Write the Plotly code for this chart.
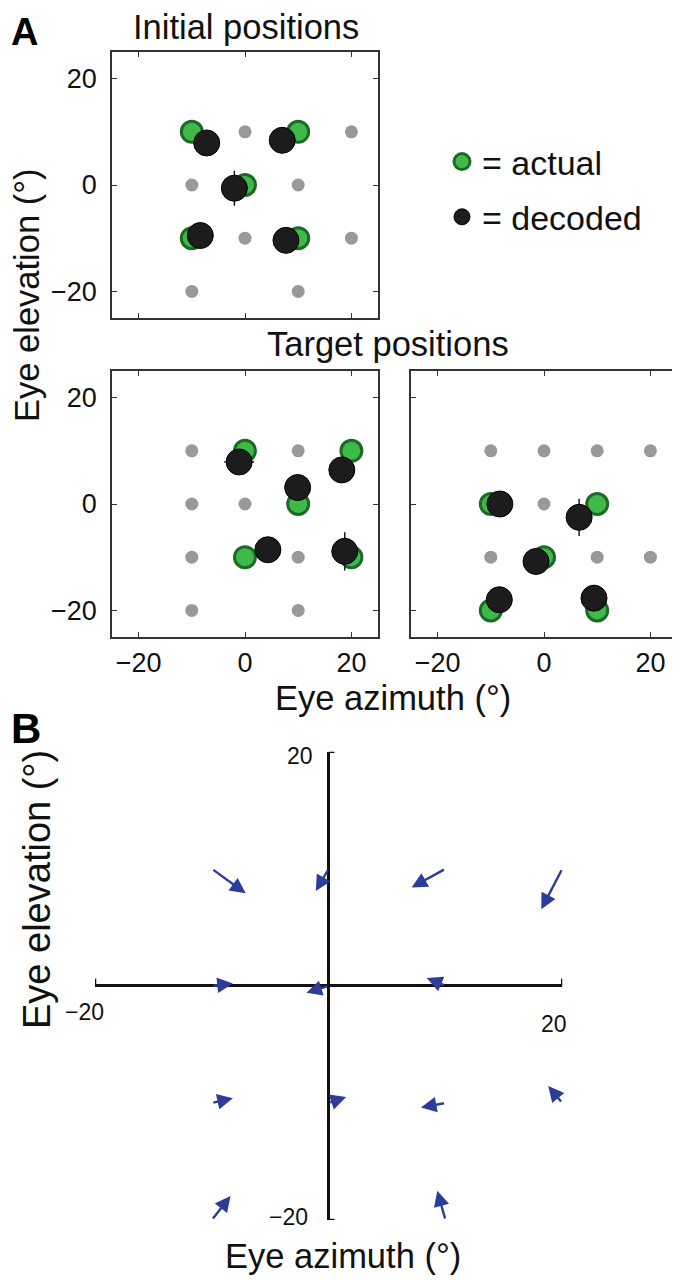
import plotly.graph_objects as go

# ---- data (deg) ----
# Panel A, initial positions
init_grid_x = [0, 20, -10, 10, 0, 20, -10, 10]
init_grid_y = [10, 10, 0, 0, -10, -10, -20, -20]
init_actual_x = [-10, 10, 0, -10, 10]
init_actual_y = [10, 10, 0, -10, -10]
init_dec_x = [-7.2, 7.0, -2.0, -8.4, 7.7]
init_dec_y = [7.9, 8.4, -0.6, -9.5, -10.4]
init_dec_ey = [0, 0, 3.3, 0, 0]

# Panel A, target positions (left)
tgt1_grid_x = [-10, 10, -10, 0, -10, 10, -10, 10]
tgt1_grid_y = [10, 10, 0, 0, -10, -10, -20, -20]
tgt1_actual_x = [0, 20, 10, 0, 20]
tgt1_actual_y = [10, 10, 0, -10, -10]
tgt1_dec_x = [-1.1, 9.9, 18.2, 4.3, 18.75]
tgt1_dec_y = [7.9, 3.1, 6.4, -8.6, -8.9]
tgt1_dec_ex = [2.8, 0, 0, 0, 0]
tgt1_dec_ey = [0, 0, 0, 0, 3.6]

# Panel A, target positions (right)
tgt2_grid_x = [-10, 0, 10, 20, 0, -10, 10, 20]
tgt2_grid_y = [10, 10, 10, 10, 0, -10, -10, -10]
tgt2_actual_x = [-10, 10, 0, -10, 10]
tgt2_actual_y = [0, 0, -10, -20, -20]
tgt2_dec_x = [-8.3, 6.6, -1.5, -8.4, 9.4]
tgt2_dec_y = [0, -2.5, -10.8, -18.0, -17.7]
tgt2_dec_ey = [0, 3.5, 0, 0, 0]

# Panel B, arrows: tail (eye position) -> head
arr_x0 = [-10, 0, 10, 20, -10, 0, 10, -10, 0, 10, 20, -10, 10]
arr_y0 = [10, 10, 10, 10, 0, 0, 0, -10, -10, -10, -10, -20, -20]
arr_x1 = [-7.1, -1.1, 7.1, 18.2, -8.2, -1.9, 8.4, -8.2, 1.5, 7.9, 18.8, -8.4, 9.3]
arr_y1 = [7.9, 8.1, 8.4, 6.55, 0.2, -0.6, 0.66, -9.6, -9.5, -10.4, -8.55, -17.95, -17.5]

FONT = "Liberation Sans, Arial, sans-serif"
GRAY = "#999999"
GREEN = "#3fba4a"
DKGREEN = "#1d6a26"
BLACK = "#1c1c1c"
BLUE = "#2b3c99"

W, H = 680, 1280
OFF = 8  # page body margin


def px(p):
    return (p - OFF) / W


def py(p):
    return 1 - (p - OFF) / H


fig = go.Figure()


def add_panel(n, gx, gy, ax_, ay_, dx, dy, ex=None, ey=None, legend=False):
    xa = "x" if n == 1 else "x%d" % n
    ya = "y" if n == 1 else "y%d" % n
    fig.add_trace(go.Scatter(x=gx, y=gy, mode="markers", xaxis=xa, yaxis=ya,
                             marker=dict(size=13, color=GRAY), showlegend=False,
                             hoverinfo="skip"))
    fig.add_trace(go.Scatter(x=ax_, y=ay_, mode="markers", xaxis=xa, yaxis=ya,
                             name="= actual", showlegend=legend, legendgroup="a",
                             marker=dict(size=21, color=GREEN,
                                         line=dict(color=DKGREEN, width=3))))
    err_x = dict(type="data", array=ex, color=BLACK, thickness=1.5, width=0) if ex else None
    err_y = dict(type="data", array=ey, color=BLACK, thickness=1.5, width=0) if ey else None
    fig.add_trace(go.Scatter(x=dx, y=dy, mode="markers", xaxis=xa, yaxis=ya,
                             name="= decoded", showlegend=legend, legendgroup="d",
                             error_x=err_x, error_y=err_y,
                             marker=dict(size=26, color=BLACK,
                                         line=dict(color="#000", width=1))))


add_panel(1, init_grid_x, init_grid_y, init_actual_x, init_actual_y,
          init_dec_x, init_dec_y, ey=init_dec_ey, legend=True)
add_panel(2, tgt1_grid_x, tgt1_grid_y, tgt1_actual_x, tgt1_actual_y,
          tgt1_dec_x, tgt1_dec_y, ex=tgt1_dec_ex, ey=tgt1_dec_ey)
add_panel(3, tgt2_grid_x, tgt2_grid_y, tgt2_actual_x, tgt2_actual_y,
          tgt2_dec_x, tgt2_dec_y, ey=tgt2_dec_ey)

# panel B: invisible tails so the subplot exists, arrows as annotations
fig.add_trace(go.Scatter(x=arr_x0, y=arr_y0, mode="markers", xaxis="x4", yaxis="y4",
                         marker=dict(size=1, opacity=0), showlegend=False,
                         hoverinfo="skip"))


def box_axis(domain, anchor, labels=True, standoff=8):
    return dict(domain=domain, anchor=anchor, range=[-25, 25],
                tickvals=[-20, 0, 20], ticktext=["\u221220", "0", "20"],
                showticklabels=labels, ticks="inside", ticklen=5, tickwidth=1.2,
                tickcolor="#333", showline=True, linecolor="#333", linewidth=1.5,
                mirror="ticks", showgrid=False, zeroline=False,
                tickfont=dict(size=27, color="#111"), ticklabelstandoff=standoff)


top_y = [py(318), py(52)]
bot_y = [py(637), py(371)]
left_x = [px(112), px(378)]
right_x = [px(411), px(677)]

fig.update_layout(
    xaxis=box_axis(left_x, "y", labels=False, standoff=2),
    yaxis=box_axis(top_y, "x"),
    xaxis2=box_axis(left_x, "y2", standoff=1),
    yaxis2=box_axis(bot_y, "x2"),
    xaxis3=box_axis(right_x, "y3", standoff=1),
    yaxis3=box_axis(bot_y, "x3", labels=False),
    xaxis4=dict(domain=[px(95), px(562.3)], anchor="y4", range=[-20, 20],
                showticklabels=False, showgrid=False, ticks="", showline=False,
                zeroline=True, zerolinecolor="#111", zerolinewidth=2.5),
    yaxis4=dict(domain=[py(1220), py(751.7)], anchor="x4", range=[-20, 20],
                showticklabels=False, showgrid=False, ticks="", showline=False,
                zeroline=True, zerolinecolor="#111", zerolinewidth=2.5),
)

annots = []
for x0, y0, x1, y1 in zip(arr_x0, arr_y0, arr_x1, arr_y1):
    annots.append(dict(x=x1, y=y1, ax=x0, ay=y0, xref="x4", yref="y4",
                       axref="x4", ayref="y4", showarrow=True, text="",
                       arrowhead=2, arrowsize=1.3, arrowwidth=2.4,
                       arrowcolor=BLUE, standoff=0, startstandoff=0))

# panel B end labels
b_tick = dict(xref="x4", yref="y4", showarrow=False, font=dict(size=23, color="#111"),
              xanchor="center", yanchor="middle")
annots += [
    dict(b_tick, x=0, y=20, text="20", xanchor="right", xshift=-14, yshift=-4),
    dict(b_tick, x=0, y=-20, text="\u221220", xanchor="right", xshift=-19, yshift=3),
    dict(b_tick, x=-20, y=0, text="\u221220", yshift=-26, xshift=-11),
    dict(b_tick, x=20, y=0, text="20", yshift=-38, xshift=-8),
]

txt = dict(xref="paper", yref="paper", showarrow=False, font=dict(size=34.5, color="#111"),
           xanchor="center", yanchor="middle")
annots += [
    dict(txt, x=px(9), y=py(9), text="<b>A</b>", xanchor="left", yanchor="top",
         font=dict(size=38, color="#000")),
    dict(txt, x=px(9), y=py(703), text="<b>B</b>", xanchor="left", yanchor="top",
         font=dict(size=42, color="#000")),
    dict(txt, x=px(246), y=py(27), text="Initial positions"),
    dict(txt, x=px(388), y=py(344), text="Target positions"),
    dict(txt, x=px(27), y=py(295), text="Eye elevation (\u00b0)", textangle=-90),
    dict(txt, x=px(393), y=py(698), text="Eye azimuth (\u00b0)"),
    dict(txt, x=px(37), y=py(890), text="Eye elevation (\u00b0)", textangle=-90,
         font=dict(size=38, color="#111")),
    dict(txt, x=px(343), y=py(1256), text="Eye azimuth (\u00b0)"),
]

caps = []
for x0, y0, x1, y1 in [(0, 20, 0.5, 20), (0, -20, 0.5, -20),
                       (-20, 0, -20, 0.6), (20, 0, 20, 0.6)]:
    caps.append(dict(type="line", xref="x4", yref="y4", x0=x0, y0=y0, x1=x1, y1=y1,
                     line=dict(color="#111", width=2.5)))

fig.update_layout(
    width=W, height=H, autosize=False,
    margin=dict(l=0, r=0, t=0, b=0),
    paper_bgcolor="white", plot_bgcolor="white",
    font=dict(family=FONT, color="#111"),
    annotations=annots, shapes=caps,
    showlegend=True,
    legend=dict(x=px(442), y=py(133), xanchor="left", yanchor="top",
                font=dict(size=34, color="#111"), bgcolor="rgba(0,0,0,0)",
                traceorder="grouped", tracegroupgap=8, itemsizing="trace"),
)

fig.write_html("out.html")
